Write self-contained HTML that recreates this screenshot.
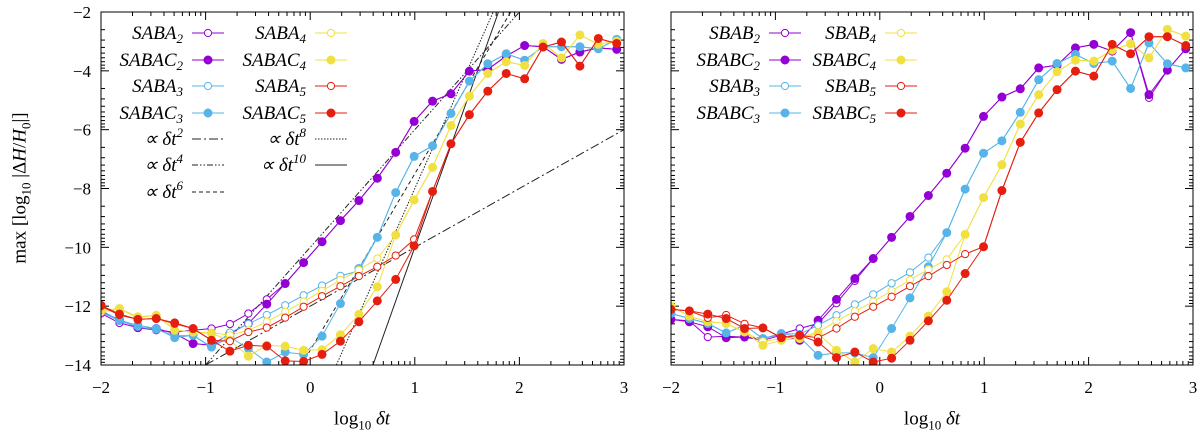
<!DOCTYPE html>
<html><head><meta charset="utf-8"><style>
html,body{margin:0;padding:0;background:#fff;}
svg{display:block;font-family:"Liberation Serif",serif;}
</style></head><body>
<svg id="chart" width="1200" height="438" viewBox="0 0 1200 438" xmlns="http://www.w3.org/2000/svg"></svg>
<script>
const xTicks=[-2,-1,0,1,2,3];
const yTicks=[-2,-4,-6,-8,-10,-12,-14];
const stepIdx=[...Array(29).keys()];
// Left panel series (y = max log10 |dH/H0|)
const SABA2=[-12.25,-12.57,-12.73,-12.82,-12.88,-12.82,-12.76,-12.61,-12.25,-11.77,-11.23,-10.52,-9.81,-9.09,-8.41,-7.65,-6.77,-5.72,-5.03,-4.78,-4.01,-3.95,-3.5,-3.14,-3.18,-3.61,-3.36,-3.22,-3.27];
const SABAC2=[-12.19,-12.45,-12.73,-12.76,-12.93,-13.27,-13.33,-12.93,-12.59,-11.93,-11.23,-10.52,-9.81,-9.09,-8.41,-7.65,-6.77,-5.72,-5.03,-4.78,-4.01,-3.95,-3.5,-3.14,-3.18,-3.61,-3.36,-3.22,-3.27];
const SABA3=[-12.2,-12.5,-12.7,-12.8,-13.0,-13.0,-13.4,-12.9,-12.6,-12.3,-11.97,-11.63,-11.3,-10.97,-10.8,-9.66,-8.14,-6.91,-6.55,-5.45,-4.35,-3.76,-3.42,-3.64,-3.18,-3.18,-3.18,-3.25,-2.93];
const SABAC3=[-12.14,-12.48,-12.65,-12.76,-13.07,-12.99,-13.39,-13.05,-13.44,-13.9,-13.56,-13.64,-13.02,-11.91,-10.72,-9.66,-8.14,-6.91,-6.55,-5.45,-4.35,-3.76,-3.42,-3.64,-3.18,-3.18,-3.18,-3.25,-2.93];
const SABA4=[-12.2,-12.1,-12.4,-12.3,-12.8,-12.9,-12.9,-12.99,-12.82,-12.53,-12.19,-11.84,-11.48,-11.11,-10.77,-10.38,-9.58,-8.39,-7.28,-5.86,-4.86,-4.09,-3.69,-3.82,-3.07,-3.56,-2.78,-3.1,-2.99];
const SABAC4=[-12.14,-12.08,-12.36,-12.31,-12.82,-12.88,-12.93,-13.16,-13.7,-13.33,-13.36,-13.5,-13.48,-12.97,-12.28,-11.34,-9.58,-8.39,-7.28,-5.86,-4.86,-4.09,-3.69,-3.82,-3.07,-3.56,-2.78,-3.1,-2.99];
const SABA5=[-12.0,-12.3,-12.45,-12.42,-12.6,-12.76,-13.16,-13.19,-12.88,-12.73,-12.39,-12.02,-11.66,-11.32,-10.98,-10.66,-10.28,-9.73,-8.1,-6.48,-5.49,-4.69,-4.09,-4.27,-3.19,-3.02,-3.84,-2.9,-3.07];
const SABAC5=[-11.97,-12.27,-12.45,-12.42,-12.57,-12.76,-13.16,-13.53,-13.33,-13.36,-13.86,-13.88,-13.64,-13.19,-12.53,-11.82,-11.09,-9.95,-8.1,-6.48,-5.49,-4.69,-4.09,-4.27,-3.19,-3.02,-3.84,-2.9,-3.07];
// Right panel series
const SBAB2=[-12.45,-12.5,-13.05,-13.02,-13.05,-13.1,-12.95,-12.76,-12.59,-11.9,-11.14,-10.38,-9.66,-8.95,-8.24,-7.48,-6.63,-5.55,-4.89,-4.61,-3.9,-3.81,-3.22,-3.1,-3.33,-2.7,-4.92,-3.98,-3.25];
const SBABC2=[-12.45,-12.53,-12.7,-13.07,-13.05,-13.16,-12.99,-13.16,-12.48,-11.77,-11.06,-10.38,-9.66,-8.95,-8.24,-7.48,-6.63,-5.55,-4.89,-4.61,-3.9,-3.81,-3.22,-3.1,-3.33,-2.7,-4.81,-3.98,-3.25];
const SBAB3=[-12.25,-12.42,-12.59,-12.91,-12.65,-13.1,-12.93,-12.95,-12.65,-12.31,-11.94,-11.6,-11.22,-10.85,-10.35,-9.5,-8.02,-6.8,-6.38,-5.41,-4.3,-3.75,-3.44,-3.75,-3.67,-4.6,-3.05,-3.76,-3.9];
const SBABC3=[-12.25,-12.42,-12.59,-12.91,-12.65,-13.1,-12.93,-13.05,-13.67,-13.59,-13.59,-13.75,-12.76,-11.72,-10.66,-9.5,-8.02,-6.8,-6.38,-5.41,-4.3,-3.75,-3.44,-3.75,-3.67,-4.6,-3.05,-3.76,-3.9];
const SBAB4=[-12.0,-12.34,-12.53,-12.59,-12.88,-13.2,-13.1,-13.05,-12.88,-12.51,-12.17,-11.85,-11.48,-11.11,-10.75,-10.41,-9.56,-8.31,-7.19,-5.81,-4.81,-4.03,-3.64,-3.67,-3.3,-3.08,-3.56,-2.59,-2.82];
const SBABC4=[-12.0,-12.34,-12.53,-12.59,-12.88,-13.33,-13.16,-13.1,-12.93,-13.5,-13.9,-13.44,-13.56,-13.02,-12.34,-11.51,-9.56,-8.31,-7.19,-5.81,-4.81,-4.03,-3.64,-3.67,-3.3,-3.08,-3.56,-2.59,-2.82];
const SBAB5=[-12.11,-12.16,-12.4,-12.3,-12.6,-12.74,-13.07,-12.99,-13.08,-12.76,-12.36,-12.02,-11.68,-11.32,-10.98,-10.6,-10.23,-9.98,-8.07,-6.43,-5.43,-4.64,-4.01,-4.18,-3.1,-3.42,-2.84,-2.84,-3.14];
const SBABC5=[-12.11,-12.16,-12.27,-12.42,-12.76,-12.74,-13.07,-12.99,-13.22,-13.75,-13.56,-13.9,-13.77,-13.16,-12.5,-11.8,-10.89,-9.98,-8.07,-6.43,-5.43,-4.64,-4.01,-4.18,-3.1,-3.42,-2.84,-2.84,-3.14];
// power-law guide lines: slope and intercept
const guidePowers=[2,4,6,8,10];
const guideIntercepts=[-12,-10,-13.5,-16,-20];

const NS="http://www.w3.org/2000/svg";
const svg=document.getElementById('chart');
function mk(tag,attrs,parent){const e=document.createElementNS(NS,tag);for(const k in attrs)e.setAttribute(k,attrs[k]);(parent||svg).appendChild(e);return e;}
const COL={p:'#9400d3',b:'#56b4e9',y:'#f0e040',r:'#e51e10'};
const TOP=12,BOT=365;
function panel(x0,x1,id,showY,series,legend,guides){
  const g=mk('g',{});
  
  
  const xs=v=>x0+(v+2)/5*(x1-x0);
  const ys=v=>TOP+(-2-v)/12*(BOT-TOP);
  const cp=mk('clipPath',{id:id+'-clip'},g);
  mk('rect',{x:x0,y:TOP,width:x1-x0,height:BOT-TOP},cp);
  // ticks
  const tk=mk('g',{stroke:'#000','stroke-width':1},g);
  
  
  for(let i=0;i<xTicks.length;i++){
    const X=xs(xTicks[i]);
    mk('line',{x1:X,x2:X,y1:BOT,y2:BOT-8},tk);mk('line',{x1:X,x2:X,y1:TOP,y2:TOP+8},tk);
    if(i<xTicks.length-1)for(let k=2;k<10;k++){const Xm=xs(xTicks[i]+Math.log10(k));
      mk('line',{x1:Xm,x2:Xm,y1:BOT,y2:BOT-4},tk);mk('line',{x1:Xm,x2:Xm,y1:TOP,y2:TOP+4},tk);}
    const t=mk('text',{x:X,y:BOT+28,'text-anchor':'middle','font-size':17},g);
    t.textContent=String(xTicks[i]).replace('-','\u2212');
    
    
  }
  for(let i=0;i<yTicks.length;i++){
    const Y=ys(yTicks[i]);
    mk('line',{x1:x0,x2:x0+8,y1:Y,y2:Y},tk);mk('line',{x1:x1,x2:x1-8,y1:Y,y2:Y},tk);
    if(i<yTicks.length-1)for(let k=2;k<10;k++){const Ym=ys(yTicks[i]-2*Math.log10(k));
      mk('line',{x1:x0,x2:x0+4,y1:Ym,y2:Ym},tk);mk('line',{x1:x1,x2:x1-4,y1:Ym,y2:Ym},tk);}
    if(showY){const t=mk('text',{x:x0-10,y:Y+6,'text-anchor':'end','font-size':17},g);
      t.textContent=String(yTicks[i]).replace('-','\u2212');
      
      }
  }
  const pg=mk('g',{'clip-path':'url(#'+id+'-clip)'},g);
  const dashes=['9,3,2,3','6,2,1.5,2,1.5,2','4,3','1.5,1.5',''];
  if(guides){for(let i=0;i<guidePowers.length;i++){
    const p=guidePowers[i],c=guideIntercepts[i];
    const xa=Math.max(-2,(-14-c)/p),xb=Math.min(3,(-2-c)/p);
    const l=mk('line',{x1:xs(xa),y1:ys(p*xa+c),x2:xs(xb),y2:ys(p*xb+c),stroke:'#222','stroke-width':1,'stroke-dasharray':dashes[i]},pg);
    
    }}
  series.forEach(s=>{
    const sg=mk('g',{},pg);
    
    
    const pts=s.data.map((v,k)=>xs(-2+stepIdx[k]*Math.log10(1.5)).toFixed(1)+','+ys(v).toFixed(1)).join(' ');
    mk('polyline',{points:pts,fill:'none',stroke:s.c,'stroke-width':1},sg);
    s.data.forEach((v,k)=>{const m=mk('circle',{cx:xs(-2+stepIdx[k]*Math.log10(1.5)),cy:ys(v),r:s.f?4:3.6,fill:s.f?s.c:'#fff',stroke:s.c,'stroke-width':1},sg);
      
      });
  });
  // legend
  const lg=mk('g',{},g);
  
  
  legend.forEach(L=>{
    const e=mk('g',{},lg);
    
    
    const t=mk('text',{x:L.tx,y:L.y+6,'text-anchor':'end','font-size':19,'font-style':'italic'},e);
    t.innerHTML=L.label;
    mk('line',{x1:L.lx,x2:L.lx+32,y1:L.y,y2:L.y,stroke:L.c||'#222','stroke-width':1,'stroke-dasharray':L.d||''},e);
    if(L.c)mk('circle',{cx:L.lx+16,cy:L.y,r:L.f?4:3.6,fill:L.f?L.c:'#fff',stroke:L.c},e);
  });
  mk('rect',{x:x0,y:TOP,width:x1-x0,height:BOT-TOP,fill:'none',stroke:'#000','stroke-width':1},g);
}
const rows=[33,60,86,113,139,165,192];
const sub=(a,n)=>a+'<tspan font-size="13" dy="4">'+n+'</tspan>';
const sup=(n)=>'∝ δ<tspan>t</tspan><tspan font-size="13" dy="-8">'+n+'</tspan>';
panel(101,624,'left-panel',true,[
 {name:'SABA2',data:SABA2,c:COL.p,f:false},{name:'SABAC2',data:SABAC2,c:COL.p,f:true},
 {name:'SABA3',data:SABA3,c:COL.b,f:false},{name:'SABAC3',data:SABAC3,c:COL.b,f:true},
 {name:'SABA4',data:SABA4,c:COL.y,f:false},{name:'SABAC4',data:SABAC4,c:COL.y,f:true},
 {name:'SABA5',data:SABA5,c:COL.r,f:false},{name:'SABAC5',data:SABAC5,c:COL.r,f:true}],
 [{label:sub('SABA','2'),tx:183,lx:192,y:rows[0],c:COL.p},{label:sub('SABAC','2'),tx:183,lx:192,y:rows[1],c:COL.p,f:1},
  {label:sub('SABA','3'),tx:183,lx:192,y:rows[2],c:COL.b},{label:sub('SABAC','3'),tx:183,lx:192,y:rows[3],c:COL.b,f:1},
  {label:sup('2'),tx:183,lx:192,y:rows[4],d:'9,3,2,3'},{label:sup('4'),tx:183,lx:192,y:rows[5],d:'6,2,1.5,2,1.5,2'},{label:sup('6'),tx:183,lx:192,y:rows[6],d:'4,3'},
  {label:sub('SABA','4'),tx:306,lx:315,y:rows[0],c:COL.y},{label:sub('SABAC','4'),tx:306,lx:315,y:rows[1],c:COL.y,f:1},
  {label:sub('SABA','5'),tx:306,lx:315,y:rows[2],c:COL.r},{label:sub('SABAC','5'),tx:306,lx:315,y:rows[3],c:COL.r,f:1},
  {label:sup('8'),tx:306,lx:315,y:rows[4],d:'1.5,1.5'},{label:sup('10'),tx:306,lx:315,y:rows[5]}],true);
panel(671,1193,'right-panel',false,[
 {name:'SBAB2',data:SBAB2,c:COL.p,f:false},{name:'SBABC2',data:SBABC2,c:COL.p,f:true},
 {name:'SBAB3',data:SBAB3,c:COL.b,f:false},{name:'SBABC3',data:SBABC3,c:COL.b,f:true},
 {name:'SBAB4',data:SBAB4,c:COL.y,f:false},{name:'SBABC4',data:SBABC4,c:COL.y,f:true},
 {name:'SBAB5',data:SBAB5,c:COL.r,f:false},{name:'SBABC5',data:SBABC5,c:COL.r,f:true}],
 [{label:sub('SBAB','2'),tx:760,lx:769,y:rows[0],c:COL.p},{label:sub('SBABC','2'),tx:760,lx:769,y:rows[1],c:COL.p,f:1},
  {label:sub('SBAB','3'),tx:760,lx:769,y:rows[2],c:COL.b},{label:sub('SBABC','3'),tx:760,lx:769,y:rows[3],c:COL.b,f:1},
  {label:sub('SBAB','4'),tx:876,lx:885,y:rows[0],c:COL.y},{label:sub('SBABC','4'),tx:876,lx:885,y:rows[1],c:COL.y,f:1},
  {label:sub('SBAB','5'),tx:876,lx:885,y:rows[2],c:COL.r},{label:sub('SBABC','5'),tx:876,lx:885,y:rows[3],c:COL.r,f:1}],false);
</script>
<svg width="0" height="0"></svg>
<div style="position:absolute;left:22px;top:188px;transform:translate(-50%,-50%) rotate(-90deg);white-space:nowrap;font:19px 'Liberation Serif',serif;">max [log<sub style="font-size:13px">10</sub> |Δ<i>H</i>/<i>H</i><sub style="font-size:13px">0</sub>|]</div>
<div style="position:absolute;left:362px;top:421px;transform:translate(-50%,-50%);white-space:nowrap;font:19px 'Liberation Serif',serif;">log<sub style="font-size:13px">10</sub> <i>δt</i></div>
<div style="position:absolute;left:932px;top:421px;transform:translate(-50%,-50%);white-space:nowrap;font:19px 'Liberation Serif',serif;">log<sub style="font-size:13px">10</sub> <i>δt</i></div>
</body></html>
